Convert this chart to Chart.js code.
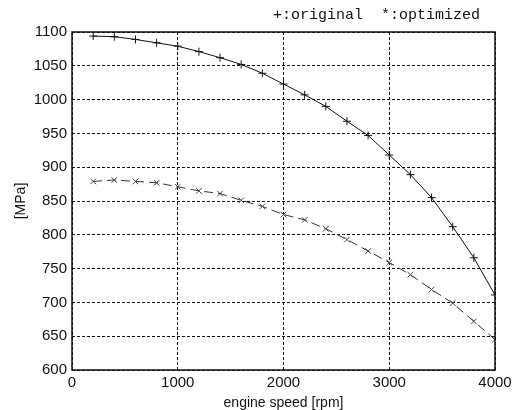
<!DOCTYPE html>
<html>
<head>
<meta charset="utf-8">
<script src="https://cdn.jsdelivr.net/npm/chart.js@4/dist/chart.umd.min.js"></script>
<style>
  html, body { margin: 0; padding: 0; background: #fff; }
  #wrap { width: 522px; height: 410px; }
</style>
</head>
<body>
<div id="wrap"><canvas id="stressChart" width="522" height="410"></canvas></div>
<script>
'use strict';

// engine speed in rpm
var speeds = [200, 400, 600, 800, 1000, 1200, 1400, 1600, 1800, 2000,
              2200, 2400, 2600, 2800, 3000, 3200, 3400, 3600, 3800, 4000];

// stress in MPa
var originalStress = [1094, 1093, 1089, 1084, 1079, 1071, 1062, 1052, 1039, 1023,
                      1007, 990, 968, 947, 918, 889, 855, 812, 766, 711];
var optimizedStress = [879, 881, 879, 877, 871, 865, 861, 851, 842, 830,
                       822, 809, 793, 776, 759, 741, 719, 699, 672, 645];

var xTicks = [0, 1000, 2000, 3000, 4000];
var yTicks = [600, 650, 700, 750, 800, 850, 900, 950, 1000, 1050, 1100];

var legendText = '+:original  *:optimized';

var ink = '#111';
var tickFont = { family: "'Liberation Sans', Arial, sans-serif", size: 15 };

function toPoints(ys) {
    return speeds.map(function (x, i) { return { x: x, y: ys[i] }; });
}

function plainNumber(v) { return String(v); }

// closed frame around the plot plus the legend line above it
var framePlugin = {
    id: 'frame',
    afterDraw: function (chart) {
        var ctx = chart.ctx, a = chart.chartArea;
        ctx.save();
        ctx.strokeStyle = ink;
        ctx.lineWidth = 1.5;
        ctx.strokeRect(a.left, a.top, a.right - a.left, a.bottom - a.top);
        ctx.fillStyle = ink;
        ctx.font = "15px 'Liberation Mono', 'DejaVu Sans Mono', monospace";
        ctx.textAlign = 'right';
        ctx.textBaseline = 'middle';
        ctx.fillText(legendText, a.right - 15, a.top - 17);
        ctx.restore();
    }
};

new Chart(document.getElementById('stressChart'), {
    type: 'line',
    data: {
        datasets: [
            {
                label: 'original',
                data: toPoints(originalStress),
                borderColor: ink,
                borderWidth: 1,
                pointStyle: 'cross',
                pointRadius: 4,
                pointBorderColor: ink,
                pointBorderWidth: 1,
                tension: 0,
                fill: false
            },
            {
                label: 'optimized',
                data: toPoints(optimizedStress),
                borderColor: '#333',
                borderWidth: 1,
                borderDash: [9, 5],
                pointStyle: 'crossRot',
                pointRadius: 4,
                pointBorderColor: '#444',
                pointBorderWidth: 1,
                tension: 0,
                fill: false
            }
        ]
    },
    options: {
        responsive: false,
        animation: false,
        layout: { padding: { left: 0, right: 27, top: 32, bottom: 0 } },
        plugins: {
            legend: { display: false },
            tooltip: { enabled: false }
        },
        scales: {
            x: {
                type: 'linear',
                min: 0,
                max: 4000,
                afterBuildTicks: function (s) {
                    s.ticks = xTicks.map(function (v) { return { value: v }; });
                },
                afterFit: function (s) { s.height = 40; },
                ticks: { color: ink, font: tickFont, padding: 4, maxRotation: 0, callback: plainNumber },
                grid: { color: ink, lineWidth: 1, drawTicks: false },
                border: { display: false, dash: [3, 2] },
                title: {
                    display: true,
                    text: 'engine speed [rpm]',
                    color: ink,
                    font: { family: "'Liberation Sans', Arial, sans-serif", size: 14, lineHeight: 1 },
                    padding: { top: 0, bottom: 0 }
                }
            },
            y: {
                min: 600,
                max: 1100,
                afterBuildTicks: function (s) {
                    s.ticks = yTicks.map(function (v) { return { value: v }; });
                },
                afterFit: function (s) { s.width = 72; },
                ticks: { color: ink, font: tickFont, padding: 5, callback: plainNumber },
                grid: { color: ink, lineWidth: 1, drawTicks: false },
                border: { display: false, dash: [3, 2] },
                title: {
                    display: true,
                    text: '[MPa]',
                    color: ink,
                    font: { family: "'Liberation Sans', Arial, sans-serif", size: 14, lineHeight: 1.2 },
                    padding: { top: 13, bottom: 0 }
                }
            }
        }
    },
    plugins: [framePlugin]
});
</script>
</body>
</html>
